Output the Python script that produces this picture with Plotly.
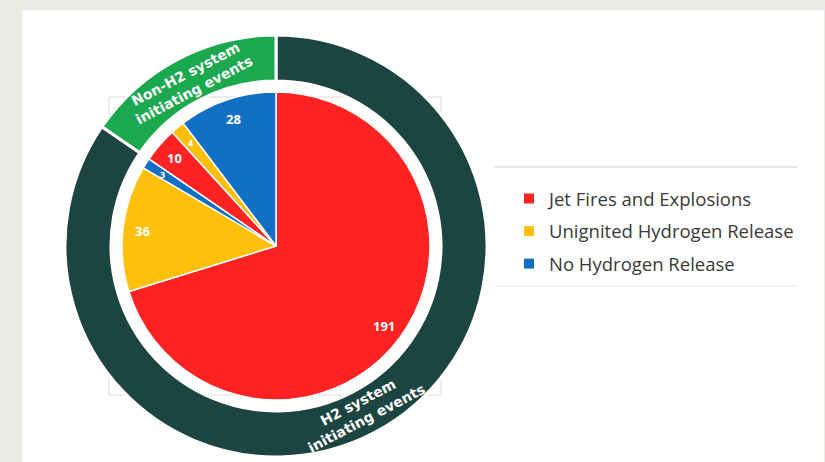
import math
import plotly.graph_objects as go

# ---- data ----
inner_labels = ["H2 Jet Fires", "H2 Unignited", "H2 No Release",
                "Non-H2 Jet Fires", "Non-H2 Unignited", "Non-H2 No Release"]
inner_values = [191, 36, 3, 10, 4, 28]
inner_cats = ["Jet Fires and Explosions", "Unignited Hydrogen Release", "No Hydrogen Release",
              "Jet Fires and Explosions", "Unignited Hydrogen Release", "No Hydrogen Release"]
outer_labels = ["H2 system<br>initiating events", "Non-H2 system<br>initiating events"]
outer_values = [230, 42]
legend_names = ["Jet Fires and Explosions", "Unignited Hydrogen Release", "No Hydrogen Release"]

# ---- styles ----
cat_colors = {"Jet Fires and Explosions": "#fe2222",
              "Unignited Hydrogen Release": "#fec00a",
              "No Hydrogen Release": "#1170c4"}
outer_colors = ["#1c4542", "#1ba84f"]
W, H = 825, 462
cx, cy = 276, 246
r_out, r_hole, r_in = 211, 165, 154

def dom(r):
    return dict(x=[(cx - r) / W, (cx + r) / W],
                y=[(H - cy - r) / H, (H - cy + r) / H])

def polar_pos(angle_deg, r):
    a = math.radians(angle_deg)
    return (cx + r * math.sin(a)) / W, (H - cy + r * math.cos(a)) / H

fig = go.Figure()

fig.add_trace(go.Pie(
    labels=outer_labels, values=outer_values, sort=False, direction="clockwise",
    rotation=0, hole=r_hole / r_out, domain=dom(r_out),
    marker=dict(colors=outer_colors, line=dict(color="white", width=3)),
    textinfo="none", showlegend=False, hoverinfo="label+value",
))

fig.add_trace(go.Pie(
    labels=inner_labels, values=inner_values, sort=False, direction="clockwise",
    rotation=0, domain=dom(r_in),
    marker=dict(colors=[cat_colors[c] for c in inner_cats], line=dict(color="white", width=1.5)),
    textinfo="none", showlegend=False, hoverinfo="label+value",
))

for i, name in enumerate(legend_names):
    fig.add_trace(go.Scatter(
        x=[None], y=[None], mode="markers", name=name, legendgroup=f"g{i}",
        marker=dict(symbol="square", size=10, color=cat_colors[name]),
    ))

annotations = []
# value labels on inner pie, placed at slice mid-angles
tot = sum(inner_values)
cum = 0
for v in inner_values:
    mid = 360 * (cum + v / 2) / tot
    cum += v
    x, y = polar_pos(mid, 0.87 * r_in)
    annotations.append(dict(x=x, y=y, xref="paper", yref="paper", text=str(v), showarrow=False,
                            xanchor="center", yanchor="middle",
                            font=dict(family="Noto Sans", size=13 if v >= 5 else 9,
                                      color="white", weight="bold")))
# ring labels, tangential
tot_o = sum(outer_values)
cum = 0
for lab, v in zip(outer_labels, outer_values):
    mid = 360 * (cum + v / 2) / tot_o
    cum += v
    x, y = polar_pos(mid, 185)
    ang = mid - 180 if 90 < mid < 270 else (mid - 360 if mid > 270 else mid)
    annotations.append(dict(x=x, y=y, xref="paper", yref="paper", text=lab, showarrow=False,
                            xanchor="center", yanchor="middle", textangle=ang,
                            font=dict(family="DejaVu Sans", size=14, color="white", weight="bold")))

shapes = [
    # white panel
    dict(type="rect", xref="paper", yref="paper", x0=22 / W, x1=824 / W, y0=0, y1=(H - 10) / H,
         fillcolor="white", line=dict(width=0), layer="below"),
    # faint chart-area frame
    dict(type="rect", xref="paper", yref="paper", x0=109 / W, x1=441 / W,
         y0=(H - 395) / H, y1=(H - 97) / H,
         fillcolor="rgba(0,0,0,0)", line=dict(color="#dadada", width=1), layer="below"),
    # legend box lines
    dict(type="line", xref="paper", yref="paper", x0=495 / W, x1=797 / W,
         y0=(H - 167) / H, y1=(H - 167) / H, line=dict(color="#dcdcdc", width=1.5)),
    dict(type="line", xref="paper", yref="paper", x0=495 / W, x1=797 / W,
         y0=(H - 286) / H, y1=(H - 286) / H, line=dict(color="#ececec", width=1.5)),
]

fig.update_layout(
    width=W, height=H, margin=dict(l=0, r=0, t=0, b=0),
    paper_bgcolor="#ebeae6", plot_bgcolor="rgba(0,0,0,0)",
    xaxis=dict(visible=False), yaxis=dict(visible=False),
    shapes=shapes, annotations=annotations,
    legend=dict(x=509 / W, y=(H - 180) / H, xanchor="left", yanchor="top",
                bgcolor="rgba(0,0,0,0)", itemwidth=30, tracegroupgap=5.5, traceorder="grouped",
                font=dict(family="Open Sans", size=18.5, color="#3a3a3a")),
)

fig.write_html("out.html", config={"displayModeBar": False},
               post_script="document.body.style.margin='0px';document.body.style.background='#ebeae6';")
